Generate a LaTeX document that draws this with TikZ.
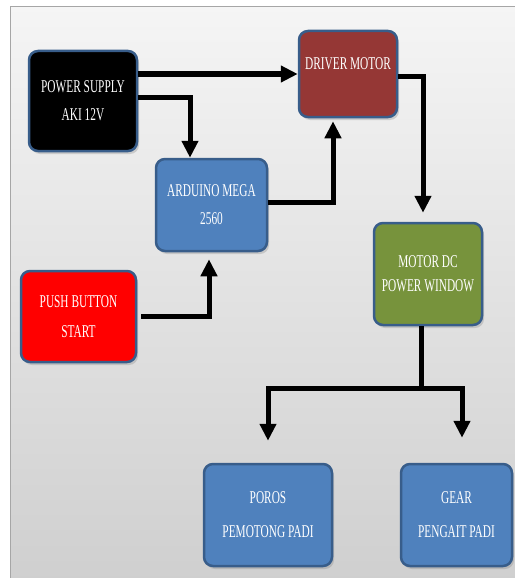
\documentclass[tikz,border=0pt]{standalone}
\usepackage{fontspec}
\newfontfamily\boxfont[FakeStretch=0.63]{Liberation Serif}
\usetikzlibrary{arrows.meta,shadows}

\definecolor{rimblue}{HTML}{385D8A}
\definecolor{driverred}{HTML}{953735}
\definecolor{megablue}{HTML}{4F81BD}
\definecolor{motorgreen}{HTML}{77933C}

\begin{document}
\begin{tikzpicture}[x=1pt,y=-1pt,
		blok/.style={draw=rimblue,line width=2.5pt,rounded corners=9pt,text=white,align=center,
			font=\boxfont\fontsize{18}{28}\selectfont,inner sep=2pt,
			drop shadow={opacity=0.3,shadow xshift=2pt,shadow yshift=-3pt}},
		garis/.style={line width=5pt},
		panah/.style={line width=5pt,-{Triangle[length=17pt,width=16pt]}}]
			\useasboundingbox (0,0) rectangle (514,578);

			% panel
			\draw[gray!70,line width=1pt,top color=gray!8,bottom color=gray!38] (10,7) rectangle (530,590);

			\node[blok,fill=black,minimum width=108pt,minimum height=100pt] (supply) at (83,101) {POWER SUPPLY\\AKI 12V};
			\node[blok,fill=driverred,minimum width=98pt,minimum height=86pt,text depth=20pt] (driver) at (348,74) {DRIVER MOTOR};
			\node[blok,fill=megablue,minimum width=111pt,minimum height=92pt] (mega) at (211.5,205) {ARDUINO MEGA\\2560};
			\node[blok,fill=red,minimum width=115pt,minimum height=91pt] (button) at (78.5,316.5) {PUSH BUTTON\\[2pt]START};
			\node[blok,fill=motorgreen,minimum width=108pt,minimum height=102pt] (motor) at (428,274) {MOTOR DC\\[-4pt]POWER WINDOW};
			\node[blok,fill=megablue,minimum width=128pt,minimum height=102pt] (poros) at (268,515) {POROS\\[6pt]PEMOTONG PADI};
			\node[blok,fill=megablue,minimum width=111pt,minimum height=102pt] (gear) at (456.5,515) {GEAR\\[6pt]PENGAIT PADI};

			\coordinate (cabang) at (421,388);

			\draw[panah] (supply.east |- driver.west) -- (driver.west);
			\draw[panah] ([yshift=4pt]supply.east) -| ([xshift=-21.5pt]mega.north);
			\draw[panah,shorten >=3pt] ([yshift=3pt]mega.east) -| ([xshift=-15pt]driver.south);
			\draw[panah,shorten >=7pt] ([xshift=4pt]button.east) -| ([xshift=-2.5pt]mega.south);
			\draw[panah,shorten >=9pt] ([yshift=-2pt]driver.east) -| ([xshift=-5pt]motor.north);

			\draw[garis] ([xshift=-7pt]motor.south) -- (cabang);
			\draw[panah,shorten >=22pt] (cabang) -| (poros.north);
			\draw[panah,shorten >=25pt] (cabang) -| ([xshift=5.5pt]gear.north);
		\end{tikzpicture}
\end{document}
